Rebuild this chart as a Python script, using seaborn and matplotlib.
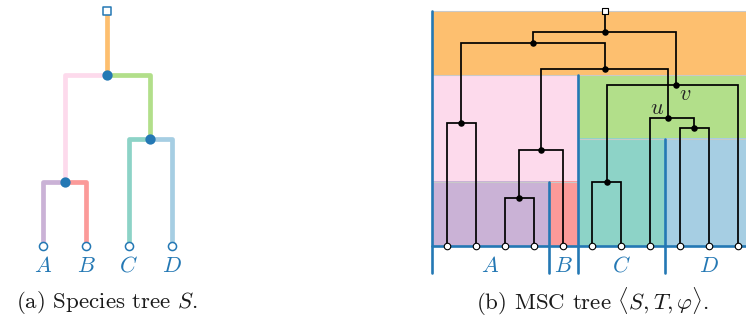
import matplotlib
matplotlib.use("Agg")
import matplotlib.pyplot as plt
import numpy as np
import pandas as pd
import seaborn as sns

# ---- species tree S ----
species_leaves = ["A", "B", "C", "D"]
species_internal = ["AB", "CD", "ABCD"]
species_left = ["A", "C", "AB"]
species_right = ["B", "D", "CD"]
species_height = [0.645, 1.075, 1.71]
origin_height = 2.35

# ---- gene tree T embedded in S ----
gene_leaf_species = ["A", "A", "A", "A", "B", "C", "C", "C", "D", "D", "D"]
gene_internal = ["g01", "g23", "g234", "g56", "g89", "u", "v", "x2", "x1", "root"]
gene_left = [0, 2, "g23", 5, 8, 7, "g56", "g234", "g01", "x1"]
gene_right = [1, 3, 4, 6, 9, "g89", 10, "u", "x2", "v"]
gene_height = [1.227, 0.483, 0.96, 0.643, 1.177, 1.283, 1.607, 1.767, 2.027, 2.143]

branch_color = {
    "ABCD": "#fdbf6f", "AB": "#fddaec", "CD": "#b2df8a",
    "A": "#cab2d6", "B": "#fb9a99", "C": "#8dd3c7", "D": "#a6cee3",
}
BLUE = "#2478b4"

sns.set_theme(style="white")
plt.rcParams["mathtext.fontset"] = "cm"
plt.rcParams["font.family"] = ["DejaVu Sans"]

fig = plt.figure(figsize=(7.46, 3.22), dpi=100)
W, H = 746.0, 322.0
Y0, PX_T = 246.0, 100.0            # baseline row and pixels per time unit
ylim = (-(H - Y0) / PX_T, Y0 / PX_T)

def make_axes(x0_px, step_px):
    ax = fig.add_axes([0, 0, 1, 1])
    ax.set_xlim(-x0_px / step_px, (W - x0_px) / step_px)
    ax.set_ylim(*ylim)
    ax.set_axis_off()
    ax.patch.set_alpha(0)
    return ax

# ---------------- (a) species tree ----------------
axL = make_axes(43.3, 42.8)
sx = {s: float(i) for i, s in enumerate(species_leaves)}
st = {s: 0.0 for s in species_leaves}
sparent = {}
for n, l, r, h in zip(species_internal, species_left, species_right, species_height):
    sx[n] = (sx[l] + sx[r]) / 2
    st[n] = h
    sparent[l] = n
    sparent[r] = n
sroot = species_internal[-1]

lw_s = 3.4
axL.plot([sx[sroot], sx[sroot]], [origin_height, st[sroot]], color=branch_color[sroot],
         lw=lw_s, solid_capstyle="round", solid_joinstyle="round", zorder=1)
for c, p in sparent.items():
    axL.plot([sx[p], sx[c], sx[c]], [st[p], st[p], st[c]], color=branch_color[c],
             lw=lw_s, solid_capstyle="round", solid_joinstyle="round", zorder=1)

sp_int = pd.DataFrame({"x": [sx[n] for n in species_internal], "t": species_height})
sp_leaf = pd.DataFrame({"x": [sx[n] for n in species_leaves], "t": 0.0})
sns.scatterplot(data=sp_int, x="x", y="t", ax=axL, s=55, color=BLUE, edgecolor=BLUE,
                linewidth=0, zorder=3, legend=False)
sns.scatterplot(data=sp_leaf, x="x", y="t", ax=axL, s=34, color="white", edgecolor=BLUE,
                linewidth=1.1, zorder=3, legend=False)
axL.scatter([sx[sroot]], [origin_height], marker="s", s=40, facecolor="white",
            edgecolor=BLUE, linewidth=1.1, zorder=3)
for s in species_leaves:
    axL.text(sx[s], -0.195, f"${s}$", color=BLUE, fontsize=16, ha="center", va="center")
axL.set_ylim(*ylim)

# ---------------- (b) MSC tree ----------------
axR = make_axes(446.7, 29.1)
# small sideways shifts keep the u and v stems apart
nudge = {"u": -0.13, "v": 0.13}
gx = {i: float(i) for i in range(len(gene_leaf_species))}
gt = {i: 0.0 for i in range(len(gene_leaf_species))}
for n, l, r, h in zip(gene_internal, gene_left, gene_right, gene_height):
    gx[n] = (gx[l] + gx[r]) / 2 + nudge.get(n, 0.0)
    gt[n] = h

# slot ranges of every species population
rng = {}
for s in species_leaves:
    idx = [i for i, sp in enumerate(gene_leaf_species) if sp == s]
    rng[s] = (min(idx) - 0.5, max(idx) + 0.5)
for n, l, r in zip(species_internal, species_left, species_right):
    rng[n] = (rng[l][0], rng[r][1])

for s, (lo, hi) in rng.items():
    top = st[sparent[s]] if s in sparent else origin_height
    axR.fill_between([lo, hi], st[s], top, color=branch_color[s], linewidth=0, zorder=0)
    axR.plot([lo, hi], [top, top], color="#c9c9c9", lw=0.8, zorder=0.5)

# population boundaries
bottom = -0.27
lw_b = 1.9
lo_all, hi_all = rng[sroot]
axR.plot([lo_all, hi_all], [0, 0], color=BLUE, lw=lw_b, zorder=1)
axR.plot([lo_all, lo_all], [bottom, origin_height], color=BLUE, lw=lw_b, zorder=1)
axR.plot([hi_all, hi_all], [bottom, origin_height], color=BLUE, lw=lw_b, zorder=1)
for n, l in zip(species_internal, species_left):
    xb = rng[l][1]
    axR.plot([xb, xb], [bottom, st[n]], color=BLUE, lw=lw_b, zorder=1)

# gene tree edges
for n, l, r in zip(gene_internal, gene_left, gene_right):
    axR.plot([gx[l], gx[l], gx[r], gx[r]], [gt[l], gt[n], gt[n], gt[r]],
             color="black", lw=1.25, solid_joinstyle="miter", zorder=2)
groot = gene_internal[-1]
axR.plot([gx[groot], gx[groot]], [gt[groot], origin_height], color="black", lw=1.25, zorder=2)

g_int = pd.DataFrame({"x": [gx[n] for n in gene_internal], "t": gene_height})
g_leaf = pd.DataFrame({"x": [gx[i] for i in range(len(gene_leaf_species))], "t": 0.0})
sns.scatterplot(data=g_int, x="x", y="t", ax=axR, s=22, color="black", edgecolor="black",
                linewidth=0, zorder=3, legend=False)
sns.scatterplot(data=g_leaf, x="x", y="t", ax=axR, s=22, color="white", edgecolor="black",
                linewidth=0.8, zorder=3, legend=False)
axR.scatter([gx[groot]], [origin_height], marker="s", s=24, facecolor="white",
            edgecolor="black", linewidth=0.8, zorder=3)
for s in species_leaves:
    lo, hi = rng[s]
    axR.text((lo + hi) / 2, -0.195, f"${s}$", color=BLUE, fontsize=16, ha="center", va="center")
axR.text(gx["u"] - 0.4, gt["u"] + 0.1, "$u$", fontsize=16, ha="center", va="center")
axR.text(gx["v"] + 0.33, gt["v"] - 0.09, "$v$", fontsize=16, ha="center", va="center")
axR.set_ylim(*ylim)

# captions
cap = dict(fontsize=16.5, ha="center", va="center", color="#1a1a1a", family=["cmr10"])
fig.text(107 / W, 1 - 302 / H, r"(a) Species tree $S$.", **cap)
fig.text(593 / W, 1 - 302 / H, r"(b) MSC tree $\langle S,T,\varphi\rangle$.", **cap)

fig.savefig("out.png", dpi=100)
